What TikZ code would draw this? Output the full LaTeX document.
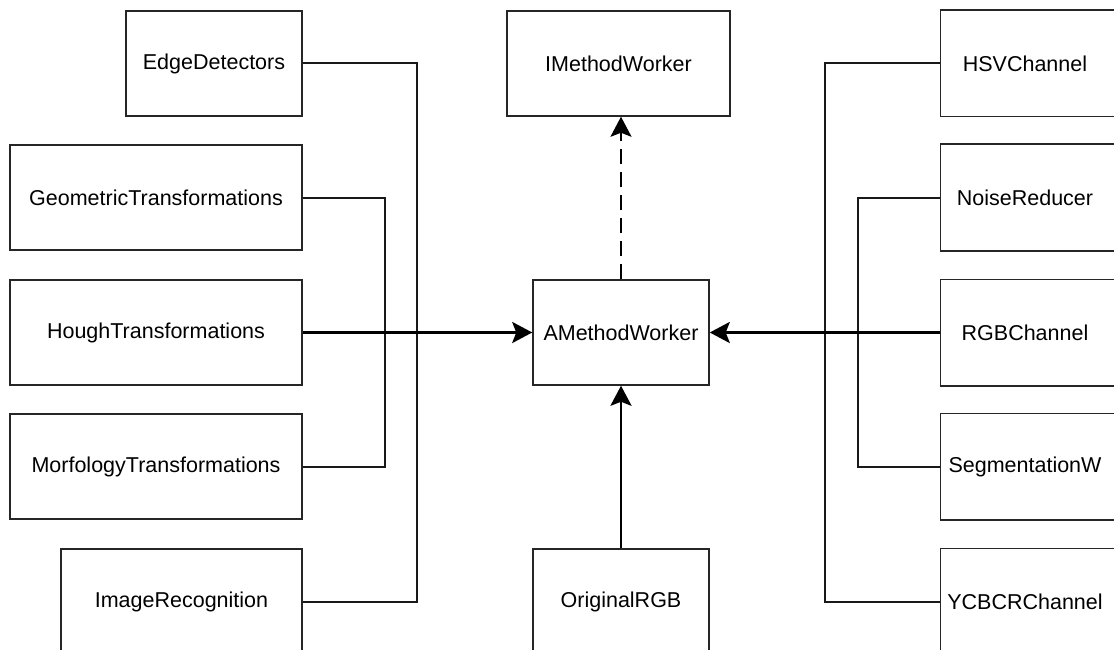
\documentclass[tikz,border=0pt]{standalone}
\usepackage{fontspec}
\setmainfont{Liberation Sans}
\usetikzlibrary{arrows.meta}
\begin{document}
\begin{tikzpicture}[x=1pt,y=-1pt,
  box/.style={draw=black!85, line width=1.5pt, rectangle, inner sep=0pt, minimum height=105pt,
    font=\fontsize{21.5}{25}\selectfont},
  rbox/.style={box, draw=none, minimum width=168pt},
  conn/.style={draw=black!90, line width=2pt},
  mainarrow/.style={draw=black, line width=2.8pt, -{Stealth[length=20pt,width=21pt,inset=4pt]}},
  dasharrow/.style={draw=black, line width=2pt, dash pattern=on 15pt off 8pt, -{Stealth[length=20pt,width=21pt,inset=4pt]}}
]
\useasboundingbox (0,0) rectangle (1114,650);
\clip (0,0) rectangle (1114,650);
\fill[white] (0,0) rectangle (1114,650);

% left column
\node[box, minimum width=176pt] (edge) at (214,63.5) {EdgeDetectors};
\node[box, minimum width=292pt] (geom) at (156,197.5) {GeometricTransformations};
\node[box, minimum width=292pt] (hough) at (156,332.5) {HoughTransformations};
\node[box, minimum width=292pt] (morf) at (156,466.5) {MorfologyTransformations};
\node[box, minimum width=241pt] (imrec) at (181.5,601.5) {ImageRecognition};

% centre column
\node[box, minimum width=223pt] (imw) at (618.5,63.5) {IMethodWorker};
\node[box, minimum width=176pt] (amw) at (621,332.5) {AMethodWorker};
\node[box, minimum width=176pt] (orig) at (621,601.5) {OriginalRGB};

% right column (boxes run past the right edge)
\node[rbox] (hsv) at (1025,63.5) {HSVChannel};
\node[rbox] (noise) at (1025,197.5) {NoiseReducer};
\node[rbox] (rgb) at (1025,332.5) {RGBChannel};
\node[rbox] (seg) at (1025,466.5) {SegmentationW};
\node[rbox] (ycbcr) at (1025,601.5) {YCBCRChannel};
\foreach \n in {hsv,noise,rgb,seg,ycbcr}
  \draw[draw=black!85, line width=1.5pt] (\n.north west) rectangle ([xshift=80pt]\n.south east);

% junction coordinates
\coordinate (jl1) at (417,332.5);
\coordinate (jl2) at (385,332.5);
\coordinate (jr1) at (825,332.5);
\coordinate (jr2) at (858,332.5);

% left connectors
\draw[conn] (edge.east) -| (jl1);
\draw[conn] (imrec.east) -| (jl1);
\draw[conn] (geom.east) -| (jl2);
\draw[conn] (morf.east) -| (jl2);
\draw[mainarrow] (hough.east) -- (amw.west);

% right connectors
\draw[conn] (hsv.west) -| (jr1);
\draw[conn] (ycbcr.west) -| (jr1);
\draw[conn] (noise.west) -| (jr2);
\draw[conn] (seg.west) -| (jr2);
\draw[mainarrow] (rgb.west) -- (amw.east);

% centre connectors
\draw[mainarrow] (orig.north) -- (amw.south);
\draw[dasharrow] (amw.north) -- (amw.north |- imw.south);
\end{tikzpicture}
\end{document}
